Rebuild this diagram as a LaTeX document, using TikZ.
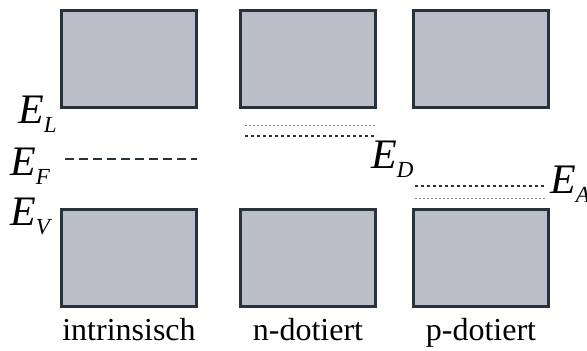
\documentclass[tikz,border=0pt]{standalone}
\usepackage{fontspec}
\setmainfont{Liberation Serif}
\usetikzlibrary{positioning}
\definecolor{bandfill}{RGB}{185,190,200}
\definecolor{bandline}{RGB}{40,50,58}
\newcommand\energy[1]{%
\textit{E}\raisebox{-9pt}{\fontsize{23}{23}\selectfont\textit{#1}}%
}

\begin{document}
\begin{tikzpicture}[x=1pt,y=-1pt,
	band/.style={draw=bandline,fill=bandfill,line width=3pt,minimum width=135pt,minimum height=97pt,inner sep=0pt},
	levelname/.style={font=\fontsize{42}{42}\selectfont,inner sep=0pt,anchor=base west},
	caption/.style={font=\fontsize{32}{32}\selectfont,inner sep=0pt,anchor=base},
	fermi/.style={draw=bandline,line width=2pt,dash pattern=on 9pt off 5pt},
	donor/.style={draw=bandline,line width=2.5pt,dash pattern=on 3pt off 3pt},
	ghost/.style={draw=bandline!60,line width=0.8pt,dash pattern=on 2pt off 2pt}]
	\useasboundingbox (0,0) rectangle (587,351);
	\clip (0,0) rectangle (587,351);

	% conduction bands
	\node[band] (cbi) at (129,59) {};
	\node[band,right=41pt of cbi] (cbn) {};
	\node[band,right=35pt of cbn] (cbp) {};
	% valence bands
	\node[band,below=99pt of cbi] (vbi) {};
	\node[band,below=99pt of cbn] (vbn) {};
	\node[band,below=99pt of cbp] (vbp) {};

	% levels
	\draw[fermi] (65,159) -- (197,159);
	\draw[ghost] (245,125) -- (377,125);
	\draw[donor] (245,136) -- (377,136);
	\draw[donor] (415,186) -- (545,186);
	\draw[ghost] (415,198) -- (545,198);

	% labels
	\node[levelname] (el) at (18,123) {\energy{L}};
	\node[levelname] (ef) at (10,175) {\energy{F}};
	\node[levelname] (ev) at (10,225) {\energy{V}};
	\node[levelname] (ed) at (371,168) {\energy{D}};
	\node[levelname] (ea) at (550,193) {\energy{A}};

	\node[caption] (ci) at (vbi.south |- 0,340) {intrinsisch};
	\node[caption] (cn) at (vbn.south |- 0,340) {n-dotiert};
	\node[caption] (cp) at (vbp.south |- 0,340) {p-dotiert};
\end{tikzpicture}
\end{document}
